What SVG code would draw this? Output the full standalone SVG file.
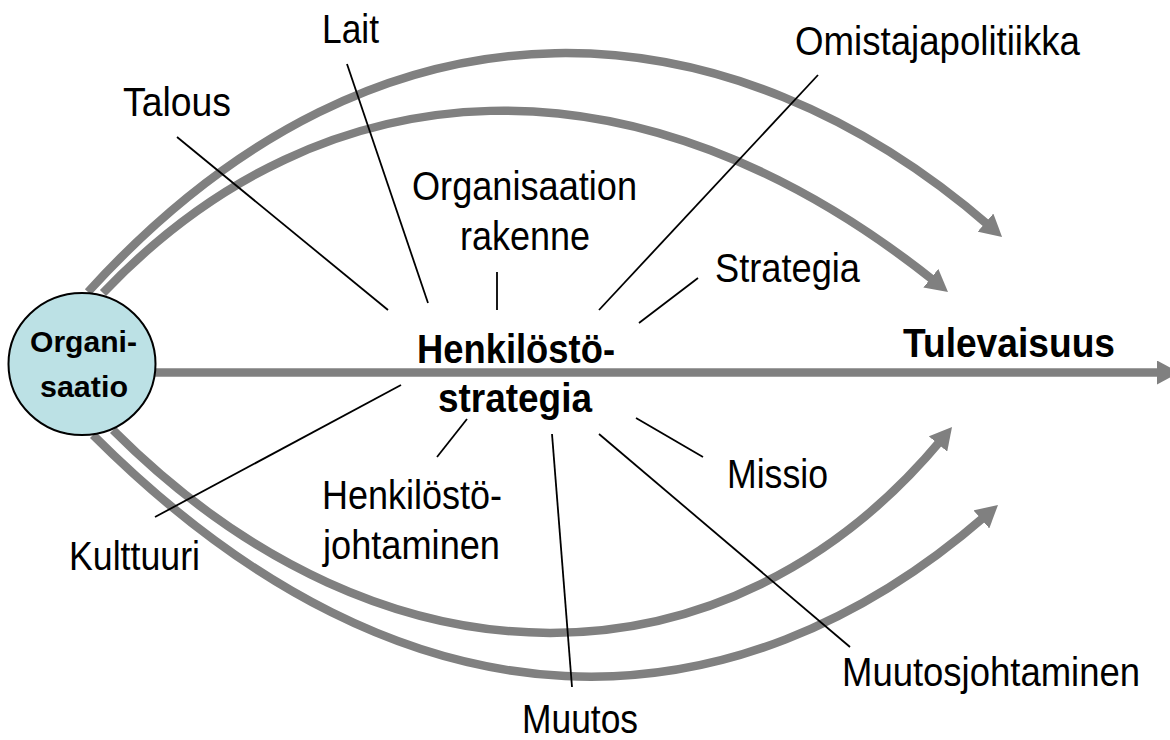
<svg xmlns="http://www.w3.org/2000/svg" width="1170" height="740" viewBox="0 0 1170 740">
<style>
.arc{fill:none;stroke:#808080;stroke-width:8.5;marker-end:url(#ah)}
.ln{stroke:#000;stroke-width:1.8;fill:none}
.t{font-family:"Liberation Sans",Arial,sans-serif;font-size:40px;fill:#000}
.b{font-family:"Liberation Sans",Arial,sans-serif;font-size:41px;font-weight:bold;fill:#000}
.c{font-family:"Liberation Sans",Arial,sans-serif;font-size:29px;font-weight:bold;fill:#000}
</style>
<defs>
<marker id="ah" markerUnits="userSpaceOnUse" viewBox="0 0 22 24" markerWidth="22" markerHeight="24" refX="6" refY="12" orient="auto">
<path d="M0,0 L22,12 L0,24 Z" fill="#808080"/>
</marker>
</defs>
<rect width="1170" height="740" fill="#fff"/>
<g id="connectors">
<path class="arc" d="M88,292 C386,-36 735,5 990,226.5"/>
<path class="arc" d="M103,293 C324,61 637,43 935.5,282"/>
<path class="arc" d="M113,430 C386,703 729,695 941.8,439.3"/>
<path class="arc" d="M93,435 C411,753 736,733 985.9,515.5"/>
<path class="arc" d="M150,372.5 L1163,372.5"/>
<line class="ln" x1="177" y1="137" x2="388" y2="310"/>
<line class="ln" x1="347" y1="64" x2="428" y2="303"/>
<line class="ln" x1="497" y1="272" x2="497" y2="310"/>
<line class="ln" x1="818" y1="75" x2="599" y2="310"/>
<line class="ln" x1="698" y1="278" x2="639" y2="323"/>
<line class="ln" x1="155" y1="517" x2="401" y2="385"/>
<line class="ln" x1="467" y1="419" x2="437" y2="457"/>
<line class="ln" x1="552" y1="434" x2="572" y2="687"/>
<line class="ln" x1="599" y1="434" x2="850" y2="647"/>
<line class="ln" x1="636" y1="418" x2="703" y2="457"/>
</g>
<g id="organisaatio">
<ellipse cx="82" cy="364" rx="73.5" ry="71" fill="#BCE1E5" stroke="#000" stroke-width="2"/>
<text class="c" x="30" y="352" textLength="107" lengthAdjust="spacingAndGlyphs">Organi-</text>
<text class="c" x="40" y="397" textLength="88" lengthAdjust="spacingAndGlyphs">saatio</text>
</g>
<g id="henkilostostrategia">
<text class="b" x="417" y="363" textLength="198" lengthAdjust="spacingAndGlyphs">Henkilöstö-</text>
<text class="b" x="438" y="412" textLength="154" lengthAdjust="spacingAndGlyphs">strategia</text>
</g>
<g id="tulevaisuus">
<text class="b" x="903" y="357" textLength="212" lengthAdjust="spacingAndGlyphs">Tulevaisuus</text>
</g>
<g id="lait"><text class="t" x="322" y="43" textLength="57" lengthAdjust="spacingAndGlyphs">Lait</text></g>
<g id="talous"><text class="t" x="123" y="116" textLength="108" lengthAdjust="spacingAndGlyphs">Talous</text></g>
<g id="organisaation-rakenne">
<text class="t" x="412" y="200" textLength="225" lengthAdjust="spacingAndGlyphs">Organisaation</text>
<text class="t" x="460" y="250" textLength="130" lengthAdjust="spacingAndGlyphs">rakenne</text>
</g>
<g id="omistajapolitiikka"><text class="t" x="795" y="55" textLength="285" lengthAdjust="spacingAndGlyphs">Omistajapolitiikka</text></g>
<g id="strategia"><text class="t" x="715" y="282" textLength="145" lengthAdjust="spacingAndGlyphs">Strategia</text></g>
<g id="missio"><text class="t" x="727" y="488" textLength="101" lengthAdjust="spacingAndGlyphs">Missio</text></g>
<g id="muutosjohtaminen"><text class="t" x="842" y="686" textLength="298" lengthAdjust="spacingAndGlyphs">Muutosjohtaminen</text></g>
<g id="muutos"><text class="t" x="522" y="733" textLength="116" lengthAdjust="spacingAndGlyphs">Muutos</text></g>
<g id="kulttuuri"><text class="t" x="69" y="570" textLength="131" lengthAdjust="spacingAndGlyphs">Kulttuuri</text></g>
<g id="henkilostojohtaminen">
<text class="t" x="322" y="509" textLength="180" lengthAdjust="spacingAndGlyphs">Henkilöstö-</text>
<text class="t" x="323" y="559" textLength="177" lengthAdjust="spacingAndGlyphs">johtaminen</text>
</g>
</svg>
